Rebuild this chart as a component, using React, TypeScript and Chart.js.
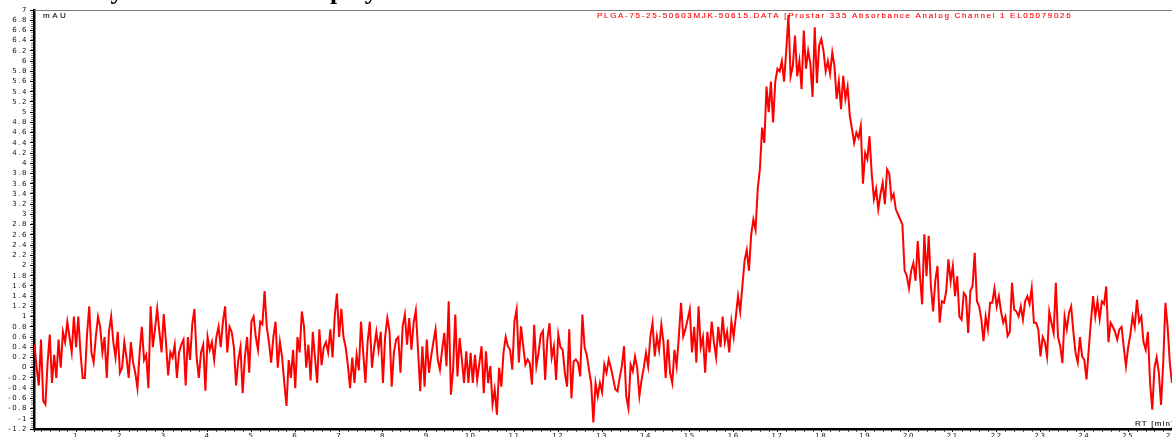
import React, { useEffect, useRef } from 'react';
import { Chart, registerables } from 'chart.js';

Chart.register(...registerables);

// Retention time sampling (minutes)
const rtStart = 0.05;
const rtStep = 0.05;

// Detector signal (mAU), 20 samples per minute
const signal0to5 = [
  0.45, 0.0, -0.35, 0.55, -0.65, -0.72, 0.1, 0.65, -0.3, 0.25, -0.2, 0.55, 0.0, 0.7, 0.5, 0.9, 0.6, 0.3, 1.0, 0.4,
  1.0, 0.3, -0.2, -0.2, 0.65, 1.2, 0.3, 0.1, 0.6, 1.0, 0.8, 0.3, 0.6, -0.2, 0.7, 1.0, 0.5, 0.2, 0.7, -0.1,
  0.0, 0.5, 0.2, -0.2, 0.5, 0.1, -0.1, -0.4, 0.3, 0.8, 0.15, 0.25, -0.4, 1.2, 0.4, 0.75, 1.15, 0.7, 0.3, 1.05,
  0.5, -0.15, 0.3, 0.2, 0.45, -0.2, 0.3, 0.45, 0.55, -0.35, 0.6, 0.15, 0.85, 1.15, 0.2, -0.2, 0.3, 0.45, -0.45, 0.6,
  0.35, 0.5, 0.15, 0.6, 0.8, 0.4, 0.9, 1.2, 0.3, 0.8, 0.7, 0.4, -0.35, 0.15, 0.4, -0.5, 0.2, 0.6, -0.1, 0.9,
];
const signal5to10 = [
  1.0, 0.6, 0.35, 0.9, 0.85, 1.5, 0.8, 0.5, 0.1, 0.6, 0.9, 0.0, 0.5, 0.2, -0.3, -0.75, 0.15, -0.2, 0.35, -0.4,
  0.6, 0.3, 1.1, 0.8, 0.0, 0.45, -0.25, 0.7, 0.2, -0.3, 0.75, 0.05, 0.4, 0.5, 0.3, 0.75, 0.2, 1.0, 1.45, 0.6,
  1.15, 0.6, 0.4, 0.05, -0.4, 0.2, -0.3, 0.25, -0.05, 0.9, 0.3, -0.3, 0.5, 0.9, 0.0, 0.4, 0.7, 0.35, 0.7, -0.3,
  0.6, 0.97, 0.71, -0.37, 0.3, 0.55, 0.6, -0.1, 0.81, 1.04, 0.45, 0.97, 0.35, 0.88, 1.12, 0.35, -0.46, 0.42, -0.37, 0.55,
  -0.1, 0.22, 0.5, 0.75, 0.16, -0.04, 0.35, 0.68, 0.03, 1.3, -0.53, -0.04, 1.04, -0.17, 0.58, 0.16, -0.3, 0.32, -0.3, 0.29,
];
const signal10to15 = [
  -0.3, 0.25, -0.24, 0.09, 0.42, -0.5, 0.32, -0.3, 0.03, -0.72, -0.43, -0.92, 0.0, -0.37, 0.29, 0.6, 0.42, 0.35, -0.04, 0.91,
  1.14, 0.1, 0.81, 0.42, 0.06, 0.16, 0.09, -0.33, 0.84, 0.03, 0.29, 0.65, 0.72, -0.24, 0.55, 0.87, 0.2, 0.42, -0.24, 0.65,
  0.4, 0.35, -0.1, -0.37, 0.75, -0.6, 0.12, 0.16, 0.1, -0.17, 1.04, 0.4, 0.25, -0.04, -0.3, -1.07, -0.3, -0.56, -0.3, -0.48,
  0.06, -0.1, 0.16, 0.0, -0.2, -0.42, -0.46, -0.2, 0.03, 0.42, -0.56, -0.79, 0.06, -0.07, 0.22, 0.0, -0.56, -0.24, 0.0, 0.29,
  0.03, 0.61, 0.88, 0.22, 0.61, 0.35, 0.84, 0.5, -0.2, 0.55, -0.1, -0.3, 0.35, 0.03, 0.6, 1.27, 0.61, 0.75, 0.94, 1.14,
];
const signal15to20 = [
  0.3, 0.8, 0.1, 1.2, 0.4, 0.6, -0.1, 0.7, 0.3, 0.9, 0.5, 0.2, 0.8, 0.4, 1.0, 0.5, 0.7, 0.3, 0.9, 0.6,
  1.0, 1.4, 1.1, 1.6, 2.1, 2.3, 1.9, 2.6, 2.9, 2.7, 3.5, 3.9, 4.7, 4.4, 5.5, 5.0, 5.6, 4.8, 5.6, 5.85,
  5.8, 6.0, 5.6, 6.2, 6.9, 5.7, 5.9, 6.5, 5.7, 6.0, 5.45, 6.6, 5.85, 6.2, 5.95, 5.3, 6.66, 5.57, 6.3, 6.43,
  6.2, 5.8, 6.0, 5.75, 6.17, 5.9, 5.26, 5.6, 5.06, 5.71, 5.26, 5.5, 4.93, 4.67, 4.4, 4.6, 4.5, 4.73, 3.6, 4.2,
  4.08, 4.53, 3.8, 3.3, 3.5, 3.1, 3.4, 3.62, 3.2, 3.88, 3.8, 3.3, 3.4, 3.1, 3.0, 2.9, 2.8, 1.9, 1.8, 1.55,
];
const signal20to26 = [
  1.9, 2.05, 1.7, 2.48, 1.8, 1.24, 2.61, 1.79, 2.58, 1.6, 1.1, 1.7, 1.99, 0.88, 1.3, 1.27, 1.5, 2.12, 1.69, 1.99,
  1.4, 1.79, 1.0, 0.94, 1.46, 1.4, 0.68, 1.5, 1.6, 2.25, 1.3, 1.2, 0.95, 0.52, 1.0, 0.75, 1.27, 1.27, 1.55, 1.2,
  1.4, 1.1, 0.88, 1.0, 0.62, 0.7, 1.66, 1.14, 1.1, 1.0, 1.2, 0.94, 1.3, 1.4, 1.25, 1.56, 0.88, 0.88, 0.75, 0.22,
  0.6, 0.5, 0.22, 1.1, 0.88, 0.68, 1.66, 0.6, 0.42, 0.09, 1.0, 0.75, 1.07, 1.2, 0.7, 0.29, 0.1, 0.6, 0.22, 0.15,
  -0.23, 0.35, 0.9, 1.4, 1.0, 1.3, 0.95, 1.3, 1.25, 1.59, 0.5, 0.88, 0.8, 0.7, 0.55, 0.75, 0.8, 0.4, 0.03, 0.4,
  0.65, 1.0, 0.8, 1.33, 0.9, 1.0, 0.5, 0.35, 0.7, -0.3, -0.82, 0.0, 0.2, -0.1, -0.73, 0.1, 1.27, 0.8, 0.1, -0.3,
];

const titleText = 'Analysis of the PLGA copolymer';
const traceLabel = 'PLGA-75-25-50603MJK-50615.DATA [Prostar 335 Absorbance Analog Channel 1 EL05079026';
const yUnitLabel = 'mAU';
const xUnitLabel = 'RT [min]';

const X_MIN = 0.04;
const X_MAX = 26;
const Y_MIN = -1.2;
const Y_MAX = 7;

const LABEL_FONT = '8px "Liberation Sans"';

const decorPlugin = {
  id: 'decor',
  beforeDraw(chart: any) {
    const ctx = chart.ctx;
    ctx.fillStyle = '#ffffff';
    ctx.fillRect(0, 0, chart.width, chart.height);
    (ctx as any).letterSpacing = '1.5px';
  },
  afterDraw(chart: any) {
    const ctx = chart.ctx as CanvasRenderingContext2D;
    const a = chart.chartArea;
    const x = chart.scales.x;
    const y = chart.scales.y;
    ctx.save();
    // top frame line
    ctx.strokeStyle = '#7a7a7a';
    ctx.lineWidth = 1;
    ctx.beginPath();
    ctx.moveTo(a.left, a.top + 0.5);
    ctx.lineTo(a.right, a.top + 0.5);
    ctx.stroke();
    // minor y ticks
    ctx.strokeStyle = '#888888';
    ctx.beginPath();
    for (let k = Math.round(Y_MIN / 0.04); k <= Math.round(Y_MAX / 0.04); k++) {
      if (k % 5 === 0) continue;
      const py = Math.round(y.getPixelForValue(k * 0.04)) + 0.5;
      ctx.moveTo(a.left - 3, py);
      ctx.lineTo(a.left - 1, py);
    }
    ctx.stroke();
    // minor x ticks
    ctx.strokeStyle = '#444444';
    ctx.beginPath();
    for (let k = 1; k <= Math.round(X_MAX / 0.2); k++) {
      if (k % 5 === 0) continue;
      const px = Math.round(x.getPixelForValue(k * 0.2)) + 0.5;
      ctx.moveTo(px, a.bottom + 1);
      ctx.lineTo(px, a.bottom + 3);
    }
    ctx.stroke();

    // texts
    ctx.font = LABEL_FONT;
    ctx.textBaseline = 'middle';
    ctx.textAlign = 'left';
    ctx.lineWidth = 0.12;
    ctx.fillStyle = '#111111';
    ctx.strokeStyle = '#111111';
    (ctx as any).letterSpacing = '2.5px';
    ctx.fillText(yUnitLabel, 43, 15.5);
    ctx.strokeText(yUnitLabel, 43, 15.5);
    (ctx as any).letterSpacing = '1.2px';
    ctx.fillText(xUnitLabel, 1135, 423.5);
    ctx.strokeText(xUnitLabel, 1135, 423.5);

    (ctx as any).letterSpacing = '0px';
    const natural = ctx.measureText(traceLabel).width;
    const spacing = Math.max(0, (475 - natural) / traceLabel.length);
    (ctx as any).letterSpacing = spacing.toFixed(2) + 'px';
    ctx.fillStyle = '#ff0000';
    ctx.strokeStyle = '#ff0000';
    ctx.fillText(traceLabel, 597, 15.8);
    ctx.strokeText(traceLabel, 597, 15.8);

    (ctx as any).letterSpacing = '0px';
    ctx.font = 'bold 26px "Liberation Serif"';
    ctx.fillStyle = '#000000';
    ctx.textBaseline = 'alphabetic';
    ctx.fillText(titleText, 57, -1);
    ctx.restore();
  },
};

const fmtY = (v: number) => String(Math.round(v * 10) / 10 + 0);
const fmtX = (v: number) => (Math.abs(v - Math.round(v)) < 1e-6 ? String(Math.round(v)) : '');

export default function App() {
  const ref = useRef<HTMLCanvasElement>(null);

  useEffect(() => {
    const canvas = ref.current;
    if (!canvas) return;
    const values = [...signal0to5, ...signal5to10, ...signal10to15, ...signal15to20, ...signal20to26];
    const points = values.map((v, i) => ({ x: Math.round((rtStart + rtStep * i) * 100) / 100, y: v }));

    const chart = new Chart(canvas, {
      type: 'line',
      data: {
        datasets: [
          {
            label: traceLabel,
            data: points,
            borderColor: '#ff0000',
            borderWidth: 2,
            pointRadius: 0,
            tension: 0,
            fill: false,
          },
        ],
      },
      options: {
        responsive: false,
        animation: false,
        events: [],
        layout: { padding: { top: 10, left: 0, right: 0, bottom: 0 } },
        plugins: {
          legend: { display: false },
          title: { display: false },
          tooltip: { enabled: false },
        },
        scales: {
          x: {
            type: 'linear',
            position: 'bottom',
            min: X_MIN,
            max: X_MAX,
            afterFit(scale: any) {
              scale.height = 8;
              scale.paddingLeft = 0;
              scale.paddingRight = 0;
            },
            ticks: {
              stepSize: 1,
              autoSkip: false,
              maxRotation: 0,
              minRotation: 0,
              padding: 0,
              color: '#111111',
              font: { family: 'DejaVu Sans', size: 7 },
              callback: (v: any) => fmtX(Number(v)),
            },
            grid: {
              drawOnChartArea: false,
              drawTicks: true,
              tickLength: 3,
              tickColor: '#000000',
              tickWidth: 1,
            },
            border: { display: true, color: '#000000', width: 2.5 },
          },
          y: {
            type: 'linear',
            position: 'left',
            min: Y_MIN,
            max: Y_MAX,
            afterFit(scale: any) {
              scale.width = 34;
              scale.paddingTop = 0;
              scale.paddingBottom = 0;
            },
            ticks: {
              stepSize: 0.2,
              autoSkip: false,
              padding: 2,
              color: '#111111',
              font: { family: 'DejaVu Sans', size: 7 },
              callback: (v: any) => fmtY(Number(v)),
            },
            grid: {
              drawOnChartArea: false,
              drawTicks: true,
              tickLength: 4,
              tickColor: '#000000',
              tickWidth: 1,
            },
            border: { display: true, color: '#000000', width: 2.5 },
          },
        },
      },
      plugins: [decorPlugin],
    });
    return () => chart.destroy();
  }, []);

  return (
    <div style={{ position: 'fixed', left: 0, top: 0, width: 1172, height: 437, background: '#ffffff', overflow: 'hidden' }}>
      <canvas ref={ref} width={1172} height={437} style={{ display: 'block', width: 1172, height: 437 }} />
    </div>
  );
}
